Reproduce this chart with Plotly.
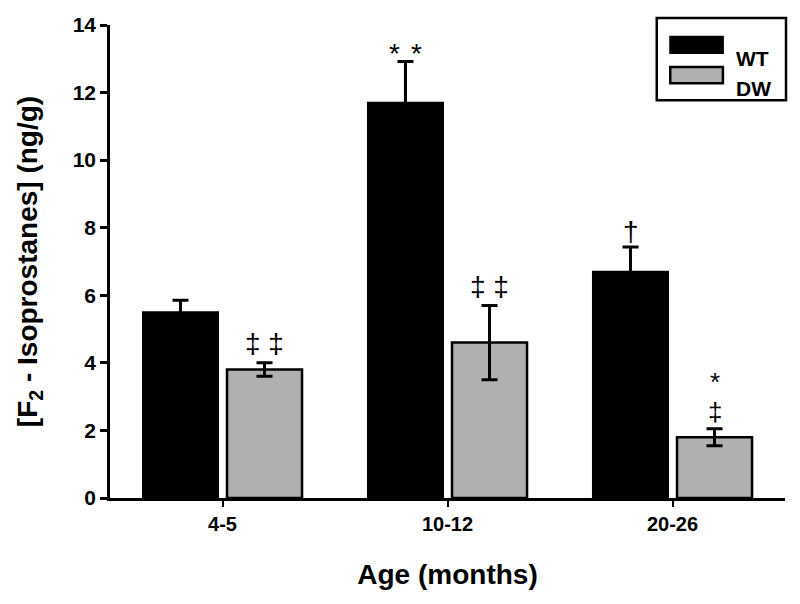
import plotly.graph_objects as go

categories = ["4-5", "10-12", "20-26"]
wt_values = [5.5, 11.7, 6.7]
wt_errors = [0.35, 1.22, 0.73]
dw_values = [3.8, 4.6, 1.8]
dw_errors = [0.2, 1.1, 0.25]
y_ticks = [0, 2, 4, 6, 8, 10, 12, 14]

# significance markers: (category, series side, y position, text, extra x offset px)
markers = [
    ("4-5", 1, 4.57, "‡ ‡", 0),
    ("10-12", -1, 13.32, "*", -11),
    ("10-12", -1, 13.32, "*", 11),
    ("10-12", 1, 6.26, "‡ ‡", 0),
    ("20-26", -1, 7.89, "†", 0),
    ("20-26", 1, 3.6, "*", 0),
    ("20-26", 1, 2.56, "‡", 0),
]

FONT = "Liberation Sans, Arial, sans-serif"

fig = go.Figure()
fig.add_trace(go.Bar(
    name="WT", x=categories, y=wt_values,
    marker=dict(color="black", line=dict(color="black", width=2)),
    error_y=dict(type="data", array=wt_errors, visible=True, color="black", thickness=3, width=8),
))
fig.add_trace(go.Bar(
    name="DW", x=categories, y=dw_values,
    marker=dict(color="#b0b0b0", line=dict(color="black", width=2.5)),
    error_y=dict(type="data", array=dw_errors, visible=True, color="black", thickness=3, width=8),
))

for cat, side, yv, txt, dx in markers:
    shift = -6 if "*" in txt else 0
    size = 28 if len(txt) > 1 or cat != "20-26" or txt == "†" else 26
    fig.add_annotation(x=cat, y=yv, text=txt, showarrow=False, xshift=42 * side + dx, yshift=shift,
                       font=dict(family=FONT, size=size, color="black"))

# legend drawn as a framed key
fig.add_shape(type="rect", xref="paper", yref="paper", x0=0.81, x1=1.0015, y0=0.841, y1=1.015,
              line=dict(color="black", width=2.5), fillcolor="white")
fig.add_shape(type="rect", xref="paper", yref="paper", x0=0.830, x1=0.908, y0=0.941, y1=0.975,
              line=dict(color="black", width=2), fillcolor="black")
fig.add_shape(type="rect", xref="paper", yref="paper", x0=0.830, x1=0.908, y0=0.877, y1=0.911,
              line=dict(color="black", width=2.5), fillcolor="#b0b0b0")
fig.add_annotation(xref="paper", yref="paper", x=0.924, y=0.958, text="<b>WT</b>", showarrow=False,
                   xanchor="left", font=dict(family=FONT, size=21, color="black"))
fig.add_annotation(xref="paper", yref="paper", x=0.924, y=0.894, text="<b>DW</b>", showarrow=False,
                   xanchor="left", font=dict(family=FONT, size=21, color="black"))

fig.update_layout(
    width=800, height=604,
    margin=dict(l=110, r=15, t=25, b=106),
    paper_bgcolor="white", plot_bgcolor="white",
    barmode="group", bargap=0.253, bargroupgap=0.107,
    showlegend=False,
    font=dict(family=FONT, color="black"),
    xaxis=dict(
        type="category", automargin=False,
        showline=True, linecolor="black", linewidth=2.5,
        ticks="outside", ticklen=6, tickwidth=2, tickcolor="black",
        tickvals=categories, ticktext=[f"<b>{c}</b>" for c in categories],
        tickfont=dict(family=FONT, size=20),
        showgrid=False, zeroline=False,
        title=dict(text="<b>Age (months)</b>", font=dict(family=FONT, size=28), standoff=31),
    ),
    yaxis=dict(
        range=[0, 14], automargin=False,
        showline=True, linecolor="black", linewidth=2.5,
        ticks="outside", ticklen=7, tickwidth=2.5, tickcolor="black",
        tickvals=y_ticks, ticktext=[f"<b>{v}</b>" for v in y_ticks],
        tickfont=dict(family=FONT, size=21),
        showgrid=False, zeroline=False,
        title=dict(text="<b>[F<sub>2</sub> - Isoprostanes] (ng/g)</b>", font=dict(family=FONT, size=28), standoff=27),
    ),
)

fig.write_html("out.html", config={"displayModeBar": False},
               post_script="document.body.style.margin='0';")
